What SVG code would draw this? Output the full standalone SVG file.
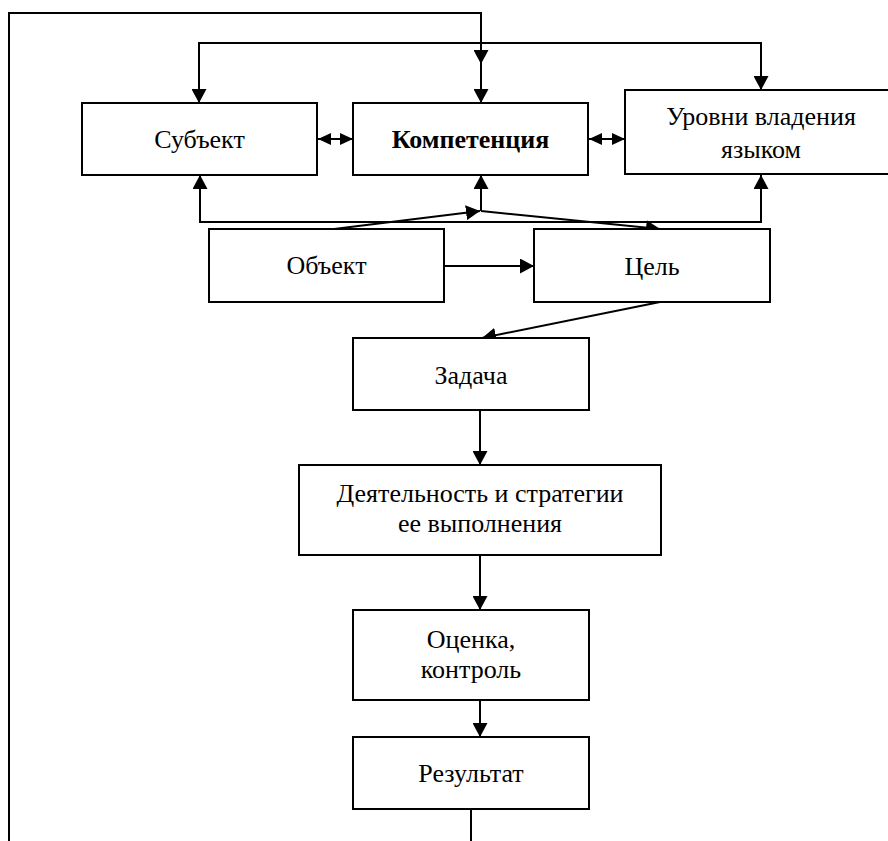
<svg xmlns="http://www.w3.org/2000/svg" width="888" height="841" viewBox="0 0 888 841">
<style>
.box{fill:#fff;stroke:#000;stroke-width:2}
.t{font-family:"Liberation Serif","Times New Roman",serif;font-size:26px;fill:#000;text-anchor:middle}
.b{font-weight:bold}
.c{fill:none;stroke:#000;stroke-width:2}
.a{marker-end:url(#ah)}
.d{marker-start:url(#sh);marker-end:url(#sh)}
</style>
<defs>
<marker id="ah" markerUnits="userSpaceOnUse" markerWidth="15" markerHeight="15" refX="14" refY="7.5" orient="auto"><path d="M0,0 L14,7.5 L0,15 z" fill="#000"/></marker>
<marker id="sh" markerUnits="userSpaceOnUse" markerWidth="14" markerHeight="12" refX="13" refY="6" orient="auto-start-reverse"><path d="M0,0 L13,6 L0,12 z" fill="#000"/></marker>
</defs>
<rect width="888" height="841" fill="#fff"/>
<g id="connectors">
<polyline class="c" points="9,841 9,13 481,13 481,64"/>
<line class="c a" x1="481" y1="13" x2="481" y2="64"/>
<line class="c a" x1="481" y1="62" x2="481" y2="103"/>
<polyline class="c" points="199,103 199,43 761,43 761,90"/>
<line class="c a" x1="199" y1="60" x2="199" y2="103"/>
<line class="c a" x1="761" y1="60" x2="761" y2="90"/>
<line class="c d" x1="318" y1="139" x2="353" y2="139"/>
<line class="c d" x1="589" y1="139" x2="625" y2="139"/>
<polyline class="c" points="200,175 200,222 761,222 761,175"/>
<line class="c a" x1="200" y1="200" x2="200" y2="175"/>
<line class="c a" x1="761" y1="200" x2="761" y2="175"/>
<line class="c a" x1="481" y1="211" x2="481" y2="175"/>
<line class="c a" x1="334" y1="229" x2="480" y2="211"/>
<line class="c a" x1="481" y1="211" x2="660" y2="229"/>
<line class="c a" x1="444" y1="266" x2="534" y2="266"/>
<line class="c a" x1="660" y1="302" x2="482" y2="338"/>
<line class="c a" x1="480" y1="410" x2="480" y2="465"/>
<line class="c a" x1="480" y1="555" x2="480" y2="610"/>
<line class="c a" x1="480" y1="700" x2="480" y2="737"/>
<line class="c" x1="471" y1="809" x2="471" y2="841"/>
</g>
<g id="subject"><rect class="box" x="82" y="103" width="235" height="72"/><text class="t" x="199.5" y="148">Субъект</text></g>
<g id="competence"><rect class="box" x="353" y="103" width="235" height="72"/><text class="t b" x="470.5" y="148">Компетенция</text></g>
<g id="levels"><rect class="box" x="625" y="90" width="275" height="84"/><text class="t" x="761" y="125">Уровни владения</text><text class="t" x="761" y="158">языком</text></g>
<g id="object"><rect class="box" x="209" y="229" width="235" height="73"/><text class="t" x="326.5" y="274">Объект</text></g>
<g id="goal"><rect class="box" x="534" y="229" width="236" height="73"/><text class="t" x="652" y="275">Цель</text></g>
<g id="task"><rect class="box" x="353" y="338" width="236" height="72"/><text class="t" x="471" y="384">Задача</text></g>
<g id="activity"><rect class="box" x="299" y="465" width="362" height="90"/><text class="t" x="480" y="502">Деятельность и стратегии</text><text class="t" x="480" y="532">ее выполнения</text></g>
<g id="assessment"><rect class="box" x="353" y="610" width="236" height="90"/><text class="t" x="471" y="648">Оценка,</text><text class="t" x="471" y="678">контроль</text></g>
<g id="result"><rect class="box" x="353" y="737" width="236" height="72"/><text class="t" x="471" y="782">Результат</text></g>
</svg>
